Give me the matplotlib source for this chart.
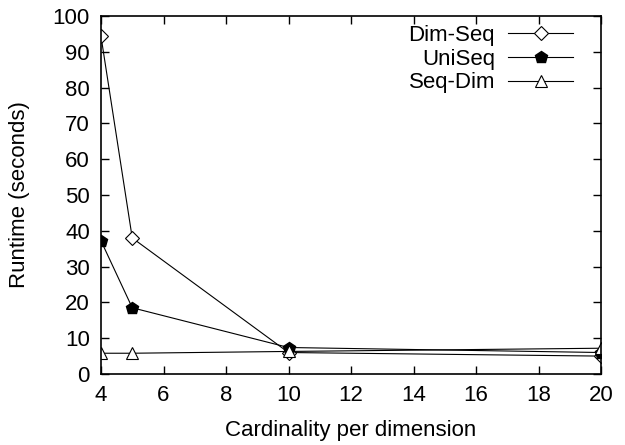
import numpy as np
from matplotlib import pyplot as plt

plt.rcParams['font.family'] = ['Liberation Sans', 'DejaVu Sans']

card = [4, 5, 10, 20]
dim_seq = [94.3, 38.0, 6.0, 5.0]
uni_seq = [37.2, 18.5, 7.4, 6.0]
seq_dim = [5.8, 5.8, 6.3, 7.2]

fig = plt.figure(figsize=(6.25, 4.45), dpi=100)
ax = fig.add_axes([101/625, 1-374/445, 500/625, 358/445])

ax.plot(card, dim_seq, 'k-', lw=0.8, marker='D', ms=7, mfc='white', mec='k', mew=0.8, label='Dim-Seq')
ax.plot(card, uni_seq, 'k-', lw=0.8, marker='p', ms=9, mfc='k', mec='k', label='UniSeq')
ax.plot(card, seq_dim, 'k-', lw=0.8, marker='^', ms=9, mfc='white', mec='k', mew=0.8, label='Seq-Dim')

ax.set_xlim(4, 20)
ax.set_ylim(0, 100)
ax.set_xticks(np.arange(4, 21, 2))
ax.set_yticks(np.arange(0, 101, 10))
ax.tick_params(direction='in', top=True, right=True, labelsize=16, length=6, width=1, pad=8)
for s in ax.spines.values():
    s.set_linewidth(1.2)
ax.set_xlabel('Cardinality per dimension', fontsize=16, labelpad=10)
ax.set_ylabel('Runtime (seconds)', fontsize=16, labelpad=16)

leg = ax.legend(loc='upper right', frameon=False, markerfirst=False, fontsize=16,
                handlelength=2.9, handletextpad=0.6, labelspacing=0.12,
                borderpad=0, bbox_to_anchor=(483/500, 1 + 2/358))
for t in leg.get_texts():
    t.set_ha('right')
leg._legend_box.align = 'right'

fig.savefig('out.png', dpi=100)
